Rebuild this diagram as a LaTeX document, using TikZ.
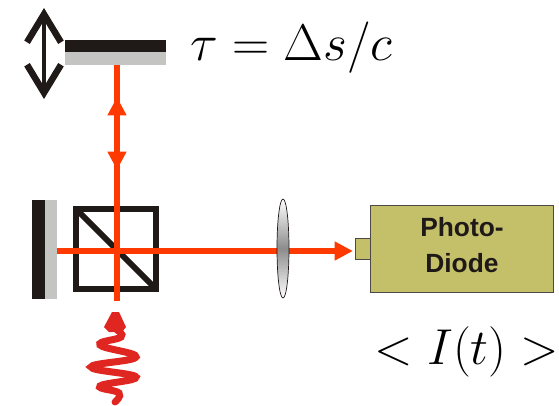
\documentclass[tikz,border=0pt]{standalone}
\usepackage{amsmath,amssymb}
\usepackage{xcolor}
\usepackage{fontspec}
\setsansfont{Liberation Sans}
\usepackage{tikz}
\usetikzlibrary{arrows.meta,positioning,shapes.geometric,calc}
\definecolor{beamred}{HTML}{FF3A00}
\definecolor{pulsered}{HTML}{DF2620}
\definecolor{mirrorblack}{HTML}{1F1A17}
\definecolor{mirrorgray}{HTML}{C4C4C2}
\definecolor{diodeolive}{HTML}{C4C06A}

\begin{document}
\begin{tikzpicture}[
x=0.02cm,
y=-0.02cm,
every node/.style={inner sep=0pt,outer sep=0pt},
blackbar/.style={rectangle,fill=mirrorblack,minimum width=#1},
graybar/.style={rectangle,fill=mirrorgray,minimum width=#1},
cube/.style={rectangle,draw=mirrorblack,line width=0.115cm,minimum width=1.6cm,minimum height=1.6cm},
diode/.style={rectangle,draw=mirrorblack!80,fill=diodeolive,line width=0.5pt},
lens/.style={ellipse,draw=mirrorblack,line width=0.4pt,shade,top color=white,bottom color=white,middle color=black!45,minimum width=0.24cm,minimum height=1.98cm},
beam/.style={draw=beamred,line width=0.115cm},
beamtip/.style={beam,-{Triangle[length=0.37cm,width=0.36cm]}},
mathlabel/.style={font=\fontsize{24.88}{30}\selectfont,scale=1.178},
diodetext/.style={font=\sffamily\bfseries\fontsize{15}{18}\selectfont,text=mirrorblack,align=center}
]
\useasboundingbox (0,0) rectangle (559,406);

% top mirror, moved along the double arrow
\node[blackbar=2.02cm,minimum height=0.24cm] (topblack) at (115.5,46) {};
\node[graybar=2.02cm,minimum height=0.26cm,below=0pt of topblack] (topgray) {};
\coordinate (shifttop) at (44,8);
\coordinate (shiftbot) at (44,99);
\draw[mirrorblack,line width=0.1cm,{Straight Barb[length=0.56cm,width=0.68cm,line width=0.13cm]}-{Straight Barb[length=0.56cm,width=0.68cm,line width=0.13cm]}] (shifttop) -- (shiftbot);
\node[mathlabel] (delay) at (291.5,48) {$\tau=\Delta s/c$};

% left mirror
\node[rectangle,fill=mirrorblack,minimum width=0.26cm,minimum height=1.98cm] (leftblack) at (38.5,249.5) {};
\node[rectangle,fill=mirrorgray,minimum width=0.24cm,minimum height=1.98cm,right=0pt of leftblack] (leftgray) {};

% beam splitter
\node[cube] (splitter) at (116,249) {};
\draw[mirrorblack,line width=0.115cm] (splitter.north west) -- (splitter.south east);

% beams
\coordinate (centre) at (117,251);
\coordinate (entry) at (117,301);
\coordinate (mirrorhit) at (117,65);
\coordinate (uptip) at (117,97);
\coordinate (downtip) at (117,170);
\draw[beam] (entry) -- (centre);
\draw[beam] (mirrorhit) -- (centre);
\draw[beamtip] (centre) -- (uptip);
\draw[beamtip] (mirrorhit) -- (downtip);

% detector and lens
\node[diode,minimum width=3.66cm,minimum height=1.74cm] (detector) at (462,249) {};
\node[diode,minimum width=0.3cm,minimum height=0.42cm,left=0pt of detector] (window) {};
\coordinate (detin) at (353,251);
\draw[beamtip] (leftgray.east |- centre) -- (detin);
\node[lens] (focus) at (283,248.5) {};
\node[diodetext] (phototext) at (462,227) {Photo-};
\node[diodetext] (diodetext) at (462,263) {Diode};
\node[mathlabel,scale=0.98] (signal) at (467,352) {$<I(t)>$};

% incoming pulse
\draw[pulsered,line width=0.14cm,line cap=round] plot[smooth,tension=0.75] coordinates {(115,402) (119,393) (100,386) (136,377) (91,367) (136,357) (100,345) (121,337) (117,330)};
\fill[pulsered] (112,312) -- (119,312) -- (126,327) -- (122,332) -- (109,332) -- (104,327) -- cycle;
\end{tikzpicture}
\end{document}
